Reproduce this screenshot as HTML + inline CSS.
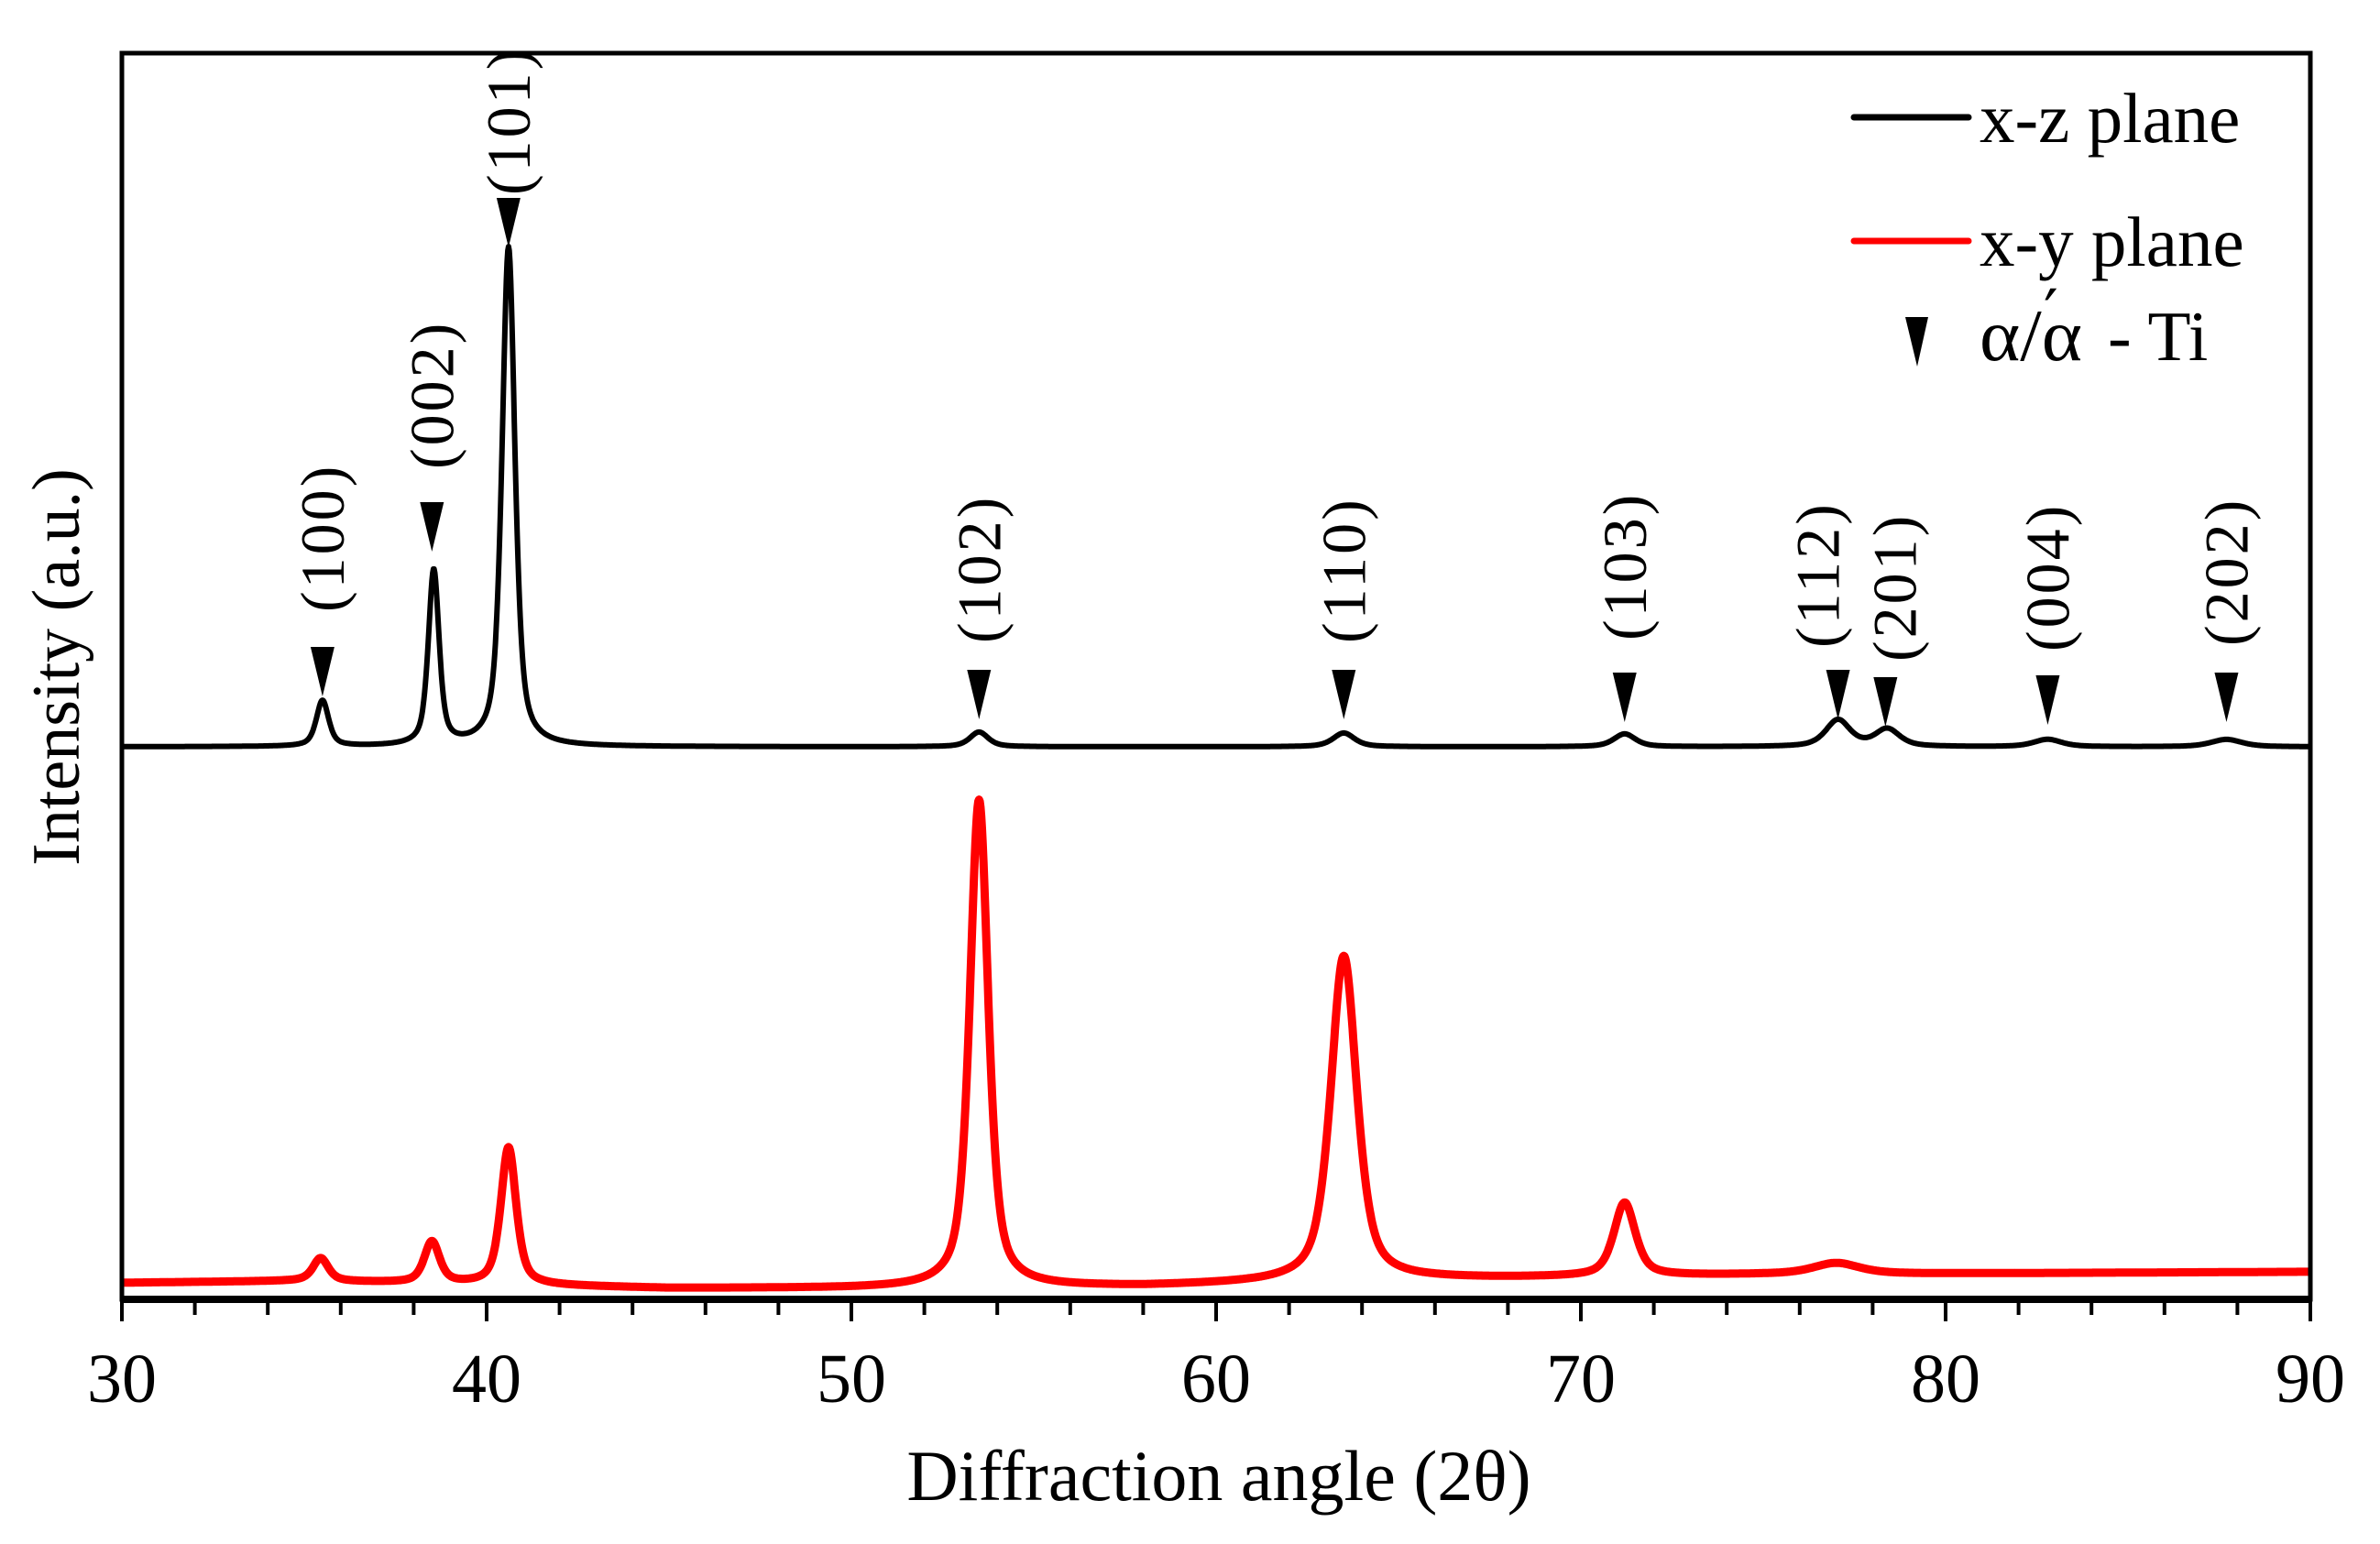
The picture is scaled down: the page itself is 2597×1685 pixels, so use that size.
<!DOCTYPE html>
<html><head><meta charset="utf-8"><style>
html,body{margin:0;padding:0;background:#fff;}
svg{display:block;font-family:"Liberation Serif",serif;}
svg text{font-family:"Liberation Serif",serif;}
</style></head><body>
<svg id="chart" width="2597" height="1685" viewBox="0 0 2597 1685" xmlns="http://www.w3.org/2000/svg">
<g id="plot"></g>
<g id="axes"></g>
<text x="1330" y="1637" font-size="78" text-anchor="middle">Diffraction angle (2θ)</text>
<text x="0" y="0" font-size="74" text-anchor="middle" transform="translate(86,728) rotate(-90)">Intensity (a.u.)</text>
<g>
<line x1="2023" y1="128" x2="2148" y2="128" stroke="#000" stroke-width="7" stroke-linecap="round"/>
<text x="2160" y="155" font-size="77">x-z plane</text>
<line x1="2023" y1="263" x2="2148" y2="263" stroke="#f00" stroke-width="7" stroke-linecap="round"/>
<text x="2160" y="290" font-size="77">x-y plane</text>
<polygon points="2079,346 2104,346 2092,400" fill="#000"/>
<text x="2160" y="393" font-size="80" textLength="112" lengthAdjust="spacingAndGlyphs">α/α</text>
<text x="2230" y="366" font-size="70" style="font-family:'DejaVu Serif',serif">′</text>
<text x="2300" y="393" font-size="77">- Ti</text>
</g>
</svg>
<script>
// ---- data ----
const xTicks = [30,40,50,60,70,80,90];
const blackBaseline = 603;
const blackPeakPos = [35.5,38.55,40.6,53.5,63.5,71.2,77.05,78.4,82.8,87.7];
const blackPeakHeight = [50,191,545,16,15,14,29,19,8,8];
const blackPeakWidth = [0.4,0.35,0.42,0.6,0.7,0.7,0.8,0.8,0.9,1.0];
const redBaseX = [30,35,45,50,58,66,75,90];
const redBaseY = [18,20,12,12,14,22,27,30];
const redPeakPos = [35.45,38.5,40.6,53.5,63.5,71.2,77.0];
const redPeakHeight = [25,45,150,532,355,80,12];
const redPeakWidth = [0.5,0.5,0.5,0.6,0.85,0.7,1.5];
const markerLabels = ["(100)","(002)","(101)","(102)","(110)","(103)","(112)","(201)","(004)","(202)"];
const markerPos = [35.5,38.5,40.6,53.5,63.5,71.2,77.05,78.35,82.8,87.7];
const markerTip = [658,816,1148,633,633,630,633,625,627,630];
const labelShift = [0,0,0,0,0,0,-22,10,0,0];
const labelGap = [38,36,3,29,29,35,24,17,26,29];

// ---- scales ----
const L=133,R=2521,T=58,B=1418;
const xs = v => L + (v-30)/60*(R-L);
const ys = v => B - v/1360*(B-T);
const NS="http://www.w3.org/2000/svg";
const plot=document.getElementById('plot'), axes=document.getElementById('axes');
function mk(tag,attrs,parent){const e=document.createElementNS(NS,tag);for(const k in attrs)e.setAttribute(k,attrs[k]);parent.appendChild(e);return e;}
function shape(x,c,w){const d=(x-c)/(w/2);return 0.6/(1+d*d)+0.4*Math.exp(-0.693*d*d);}
function interp(x,xa,ya){for(let i=0;i<xa.length-1;i++){if(x<=xa[i+1]){const t=(x-xa[i])/(xa[i+1]-xa[i]);return ya[i]+t*(ya[i+1]-ya[i]);}}return ya[ya.length-1];}
function buildPath(baseFn,pos,h,w){let d="";for(let x=30;x<=90.0001;x+=0.02){let v=baseFn(x);for(let i=0;i<pos.length;i++)v+=h[i]*shape(x,pos[i],w[i]);d+=(d?"L":"M")+xs(x).toFixed(1)+","+ys(v).toFixed(1);}return d;}

const redPath=mk('path',{d:buildPath(x=>interp(x,redBaseX,redBaseY),redPeakPos,redPeakHeight,redPeakWidth),fill:"none",stroke:"#f00","stroke-width":9,"stroke-linejoin":"round"},plot);


const blackPath=mk('path',{d:buildPath(x=>blackBaseline,blackPeakPos,blackPeakHeight,blackPeakWidth),fill:"none",stroke:"#000","stroke-width":6,"stroke-linejoin":"round"},plot);



for(let i=0;i<markerPos.length;i++){
  const cx=xs(markerPos[i]), tip=ys(markerTip[i]), top=tip-54;
  const tri=mk('polygon',{points:`${cx-13},${top} ${cx+13},${top} ${cx},${tip}`,fill:"#000"},plot);
  
  
  const ty=top-labelGap[i], tx=cx+labelShift[i];
  const t=mk('text',{x:0,y:0,"font-size":68,"text-anchor":"start","letter-spacing":3,transform:`translate(${tx+23},${ty}) rotate(-90)`},plot);
  t.textContent=markerLabels[i];
  
  
}

const frame=mk('rect',{x:L,y:T,width:R-L,height:B-T,fill:"none",stroke:"#000","stroke-width":5},axes);


const xaxis=mk('line',{x1:L,y1:B,x2:R,y2:B,stroke:"#000","stroke-width":8},axes);


for(let v=30;v<=90;v+=2){
  const major=(v%10===0);
  const tk=mk('line',{x1:xs(v),y1:B,x2:xs(v),y2:B+(major?24:17),stroke:"#000","stroke-width":4},axes);
  
  
}
for(const v of xTicks){
  const tl=mk('text',{x:xs(v),y:1530,"font-size":76,"text-anchor":"middle"},axes);
  tl.textContent=v;
  
  
}
</script>
</body></html>
